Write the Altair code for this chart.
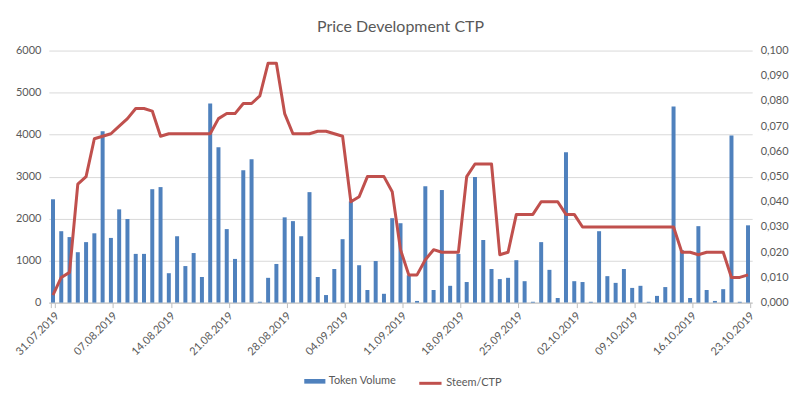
import altair as alt
import pandas as pd

dates = [d.strftime("%d.%m.%Y") for d in pd.date_range("2019-07-31", periods=85, freq="D")]

token_volume = [
    2460, 1700, 1560, 1200, 1440, 1650, 4080, 1540, 2220, 1990,
    1160, 1160, 2700, 2750, 700, 1580, 870, 1180, 610, 4740,
    3700, 1750, 1040, 3150, 3410, 20, 590, 920, 2030, 1940,
    1580, 2630, 610, 180, 800, 1510, 2410, 890, 300, 990,
    210, 2010, 1890, 650, 40, 2770, 300, 2680, 400, 1160,
    490, 2990, 1490, 800, 560, 590, 1010, 510, 20, 1440,
    780, 110, 3580, 510, 490, 20, 1700, 630, 470, 800,
    350, 400, 20, 160, 370, 4670, 1250, 110, 1820, 300,
    40, 320, 3980, 20, 1840,
]

steem_ctp = [
    0.003, 0.010, 0.012, 0.047, 0.050, 0.065, 0.066, 0.067, 0.070, 0.073,
    0.077, 0.077, 0.076, 0.066, 0.067, 0.067, 0.067, 0.067, 0.067, 0.067,
    0.073, 0.075, 0.075, 0.079, 0.079, 0.082, 0.095, 0.095, 0.075, 0.067,
    0.067, 0.067, 0.068, 0.068, 0.067, 0.066, 0.040, 0.042, 0.050, 0.050,
    0.050, 0.044, 0.021, 0.011, 0.011, 0.017, 0.021, 0.020, 0.020, 0.020,
    0.050, 0.055, 0.055, 0.055, 0.019, 0.020, 0.035, 0.035, 0.035, 0.040,
    0.040, 0.040, 0.035, 0.035, 0.030, 0.030, 0.030, 0.030, 0.030, 0.030,
    0.030, 0.030, 0.030, 0.030, 0.030, 0.030, 0.020, 0.020, 0.019, 0.020,
    0.020, 0.020, 0.010, 0.010, 0.011,
]

left_ticks = [0, 1000, 2000, 3000, 4000, 5000, 6000]
right_ticks = [0.0, 0.01, 0.02, 0.03, 0.04, 0.05, 0.06, 0.07, 0.08, 0.09, 0.10]
label_dates = dates[::7]

df = pd.DataFrame({
    "date": dates,
    "volume": token_volume,
    "price": steem_ctp,
    "s1": "Token Volume",
    "s2": "Steem/CTP",
})

FONT = "Lato"
GRAY = "#595959"

x_enc = alt.X(
    "date:O",
    sort=None,
    title=None,
    scale=alt.Scale(paddingInner=0.5, paddingOuter=0.25),
    axis=alt.Axis(
        values=label_dates,
        labelAngle=-45,
        labelAlign="right",
        labelBaseline="top",
        bandPosition=0.2,
        tickBand="extent",
        domainColor="#BFBFBF",
        tickColor="#BFBFBF",
        tickSize=5,
        labelColor=GRAY,
        labelFontSize=11,
        labelFont=FONT,
        labelPadding=2,
        grid=False,
    ),
)

bars = alt.Chart(df).mark_bar(width=4).encode(
    x=x_enc,
    y=alt.Y(
        "volume:Q",
        title=None,
        scale=alt.Scale(domain=[0, 6000]),
        axis=alt.Axis(
            values=left_ticks,
            format="d",
            orient="left",
            domain=False,
            ticks=False,
            grid=True,
            gridColor="#D9D9D9",
            labelColor=GRAY,
            labelFontSize=11,
            labelFont=FONT,
            labelPadding=8,
        ),
    ),
    color=alt.Color(
        "s1:N",
        scale=alt.Scale(domain=["Token Volume"], range=["#4F81BD"]),
        legend=alt.Legend(
            title=None,
            orient="none",
            legendX=256,
            legendY=321,
            padding=0,
            symbolType="M-1,-0.22H1V0.22H-1Z",
            symbolSize=450,
            symbolStrokeWidth=0,
            labelFontSize=11,
            labelColor=GRAY,
            labelFont=FONT,
            labelOffset=3,
        ),
    ),
)

line = alt.Chart(df).mark_line(strokeWidth=3, strokeJoin="round").encode(
    x=x_enc,
    y=alt.Y(
        "price:Q",
        title=None,
        scale=alt.Scale(domain=[0, 0.1]),
        axis=alt.Axis(
            values=right_ticks,
            orient="right",
            labelExpr="replace(format(datum.value, '.3f'), '.', ',')",
            domain=False,
            ticks=False,
            grid=False,
            labelColor=GRAY,
            labelFontSize=11,
            labelFont=FONT,
            labelPadding=8,
        ),
    ),
    stroke=alt.Stroke(
        "s2:N",
        scale=alt.Scale(domain=["Steem/CTP"], range=["#C0504D"]),
        legend=alt.Legend(
            title=None,
            orient="none",
            legendX=370,
            legendY=321,
            padding=0,
            symbolType="stroke",
            symbolSize=500,
            symbolStrokeWidth=3,
            labelFontSize=11,
            labelColor=GRAY,
            labelFont=FONT,
            labelOffset=3,
        ),
    ),
)

chart = (
    alt.layer(bars, line)
    .resolve_scale(y="independent")
    .properties(
        width=706,
        height=253,
        padding={"top": 10, "left": 5, "right": 5, "bottom": 5},
        title=alt.TitleParams(
            "Price Development CTP",
            fontSize=16,
            font=FONT,
            fontWeight="normal",
            color=GRAY,
            offset=10,
        ),
    )
    .configure_view(stroke=None)
)

chart.save("out.html", embed_options={"renderer": "svg", "actions": False})
